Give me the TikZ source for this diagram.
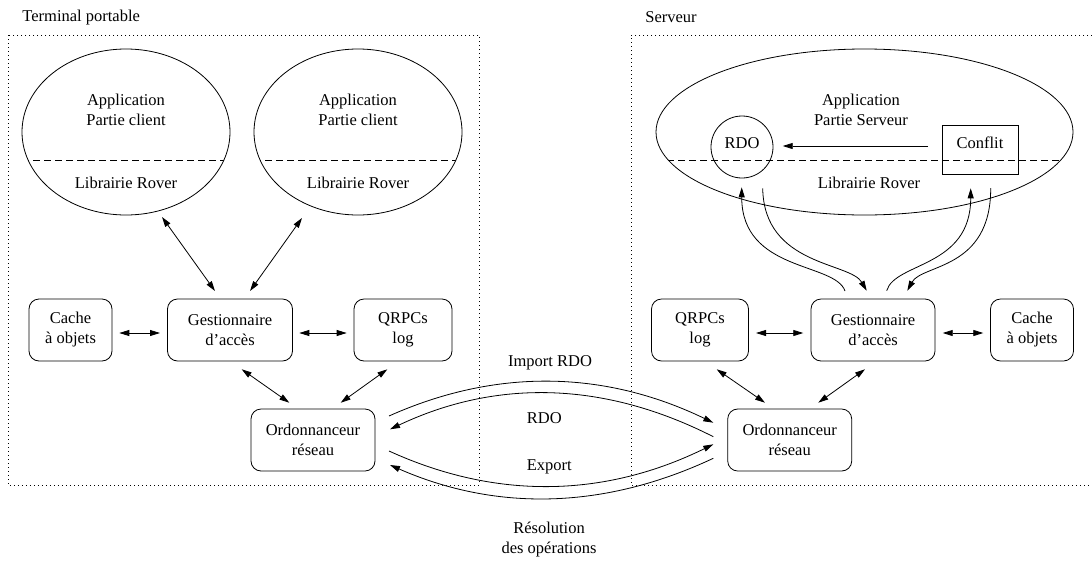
\documentclass[tikz,border=0pt]{standalone}
\usepackage{fontspec}
\setmainfont{Liberation Serif}
\usetikzlibrary{arrows.meta,shapes.geometric}
\begin{document}
\begin{tikzpicture}[x=1pt,y=-1pt,
  line width=0.8pt,
  >={Triangle[length=10pt,width=6pt]},
  every node/.style={font=\fontsize{16.5}{20}\selectfont, inner sep=0pt},
  zone/.style={line width=0.8pt, dash pattern=on 0.9pt off 3.1pt},
  sepline/.style={line width=0.8pt, dash pattern=on 7pt off 4pt},
  box/.style={draw, rounded corners=10pt, minimum height=62pt, align=center},
  appl/.style={draw, ellipse, minimum height=166pt,
    path picture={\draw[sepline]
      ([yshift=-28.7pt]path picture bounding box.west) --
      ([yshift=-28.7pt]path picture bounding box.east);}},
  txt/.style={align=center}]
\useasboundingbox (0,0) rectangle (1092,560);

% the two machines
\draw[zone] (8,35) rectangle (479,485);
\draw[zone] (1092,35) -- (631,35) -- (631,485) -- (1092,485);
\node[anchor=base west] (tport) at (22,21.7) {Terminal portable};
\node[anchor=base west] (tserv) at (645,22) {Serveur};

% client side
\node[appl, minimum width=208pt] (app1) at (126,132) {};
\node[appl, minimum width=208pt] (app2) at (358,132) {};
\node[txt] (app1top) at (126,110) {Application\\Partie client};
\node (app1lib) at (126,183) {Librairie Rover};
\node[txt] (app2top) at (358,110) {Application\\Partie client};
\node (app2lib) at (358,183) {Librairie Rover};

\node[box, minimum width=83pt] (lcache) at (70.5,330) {Cache\\à objets};
\node[box, minimum width=125pt] (lgest) at (230,330) {Gestionnaire\\d’accès};
\node[box, minimum width=98pt] (lqrpc) at (403,330) {QRPCs\\log};
\node[box, minimum width=124pt] (lord) at (313,440) {Ordonnanceur\\réseau};

\draw[<->] ([shift={(36,85)}]app1.center) -- ([shift={(-15,-39)}]lgest.center);
\draw[<->] ([shift={(-56,86)}]app2.center) -- ([shift={(20,-39)}]lgest.center);
\draw[<->] ([shift={(48.8,3)}]lcache.center) -- ([shift={(-70,3)}]lgest.center);
\draw[<->] ([shift={(69.3,3)}]lgest.center) -- ([shift={(-56.3,3)}]lqrpc.center);
\draw[<->] ([shift={(11.7,39.3)}]lgest.center) -- ([shift={(-23.7,-37.3)}]lord.center);
\draw[<->] ([shift={(-15.7,39.3)}]lqrpc.center) -- ([shift={(27.7,-37.3)}]lord.center);

% server side
\node[appl, minimum width=417pt] (sapp) at (864.5,132) {};
\node[txt] (sapptop) at (861,110) {Application\\Partie Serveur};
\node (slib) at (869,183) {Librairie Rover};
\node[draw, circle, minimum size=62pt] (rdo) at (742,147) {};
\node (rdotxt) at (742,143) {RDO};
\node[draw, minimum width=76pt, minimum height=49pt] (conflit) at (980,149.5) {};
\node (conflittxt) at (980,143) {Conflit};
\draw[->] ([shift={(-52,-3.5)}]conflit.center) -- ([shift={(40.7,-1)}]rdo.center);

\node[box, minimum width=97pt] (sqrpc) at (700,330) {QRPCs\\log};
\node[box, minimum width=124pt] (sgest) at (873,330) {Gestionnaire\\d’accès};
\node[box, minimum width=83pt] (scache) at (1032,330) {Cache\\à objets};
\node[box, minimum width=124pt] (sord) at (789.7,440) {Ordonnanceur\\réseau};

\draw[<->] ([shift={(56,3)}]sqrpc.center) -- ([shift={(-69.7,3)}]sgest.center);
\draw[<->] ([shift={(69.7,3)}]sgest.center) -- ([shift={(-48.7,3)}]scache.center);
\draw[<->] ([shift={(16.7,39.3)}]sqrpc.center) -- ([shift={(-24.7,-37.3)}]sord.center);
\draw[<->] ([shift={(-8,39.3)}]sgest.center) -- ([shift={(28.6,-37.3)}]sord.center);

% access manager <-> RDO / Conflit
\draw[->] ([shift={(-28,-39)}]sgest.center)
  .. controls +(-10,-29) and +(0,85) .. ([shift={(-0.3,40.3)}]rdo.center);
\draw[->] ([shift={(20.7,41.3)}]rdo.center)
  .. controls +(1.3,77.7) and +(-16.7,-28.7) .. ([shift={(-6.3,-39.3)}]sgest.center);
\draw[->] ([shift={(13.7,-39.3)}]sgest.center)
  .. controls +(8.3,-28.7) and +(0,79.7) .. ([shift={(-9.3,38.8)}]conflit.center);
\draw[->] ([shift={(10.7,38.5)}]conflit.center)
  .. controls +(0.3,82) and +(14.7,-26.7) .. ([shift={(34.3,-39.3)}]sgest.center);

% network exchanges
\draw[->] ([shift={(76,-24)}]lord.center)
  .. controls +(107.3,-48) and +(-108.9,-52.5) .. ([shift={(-76.4,-17.3)}]sord.center);
\draw[->] ([shift={(-76.4,-3.3)}]sord.center)
  .. controls +(-108.9,-55.4) and +(106.7,-50.5) .. ([shift={(77,-10.7)}]lord.center);
\draw[->] ([shift={(76,11)}]lord.center)
  .. controls +(107.3,49) and +(-108.9,53.4) .. ([shift={(-76.4,4.3)}]sord.center);
\draw[->] ([shift={(-76.4,18.3)}]sord.center)
  .. controls +(-108.9,51.1) and +(106.7,46.7) .. ([shift={(77,25)}]lord.center);

\node (limport) at (550,363) {Import RDO};
\node (lrdo) at (544.3,418.3) {RDO};
\node (lexport) at (549.3,466.5) {Export};
\node[txt] (lres) at (549,540) {Résolution\\des opérations};
\end{tikzpicture}
\end{document}
